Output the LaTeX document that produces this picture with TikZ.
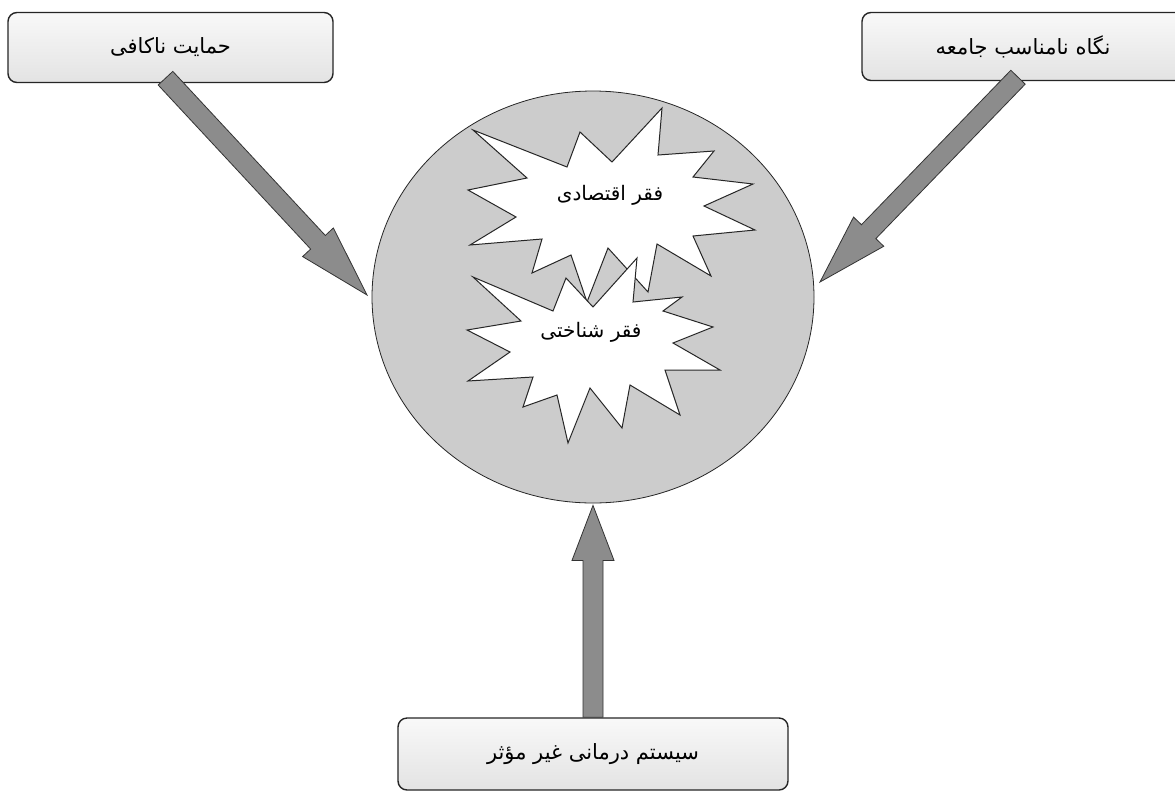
\documentclass[tikz,border=0pt]{standalone}
\usepackage{fontspec}
\usepackage{tikz}
\usetikzlibrary{shapes.geometric,calc}
\newfontfamily\farsifont[Script=Arabic]{DejaVu Sans}
\TeXXeTstate=1

% block arrow from #1 to #2, head length #3
\newcommand{\fatarrow}[3]{%
    \path ($(#2)!#3!(#1)$) coordinate (hb);
    \draw[fatarrow] ($(#1)!10pt!90:(#2)$) -- ($(hb)!10pt!90:(#2)$)
        -- ($(hb)!21pt!90:(#2)$) -- (#2) -- ($(hb)!21pt!-90:(#2)$)
        -- ($(hb)!10pt!-90:(#2)$) -- ($(#1)!10pt!-90:(#2)$) -- cycle;}

\begin{document}
\begin{tikzpicture}[
        x=1pt, y=-1pt,
        cause/.style={
            draw=black!85,
            line width=1.4pt,
            rounded corners=9pt,
            top color=gray!5,
            bottom color=gray!22,
            inner sep=0pt,
            font=\farsifont\fontsize{21}{25}\selectfont
        },
        core/.style={
            ellipse,
            draw=black!85,
            line width=0.8pt,
            fill=gray!40,
            minimum width=442pt,
            minimum height=412pt,
            inner sep=0pt
        },
        burst/.style={
            draw=black!85,
            line width=1pt,
            fill=white,
            line join=miter
        },
        fatarrow/.style={
            draw=black!80,
            line width=0.8pt,
            fill=black!45,
            line join=miter
        },
        bursttext/.style={
            inner sep=1pt,
            font=\farsifont\fontsize{20}{24}\selectfont
        }
    ]
        \fill[white] (0,0) rectangle (1175,793);
        \useasboundingbox (0,0) rectangle (1175,793);

        % Causes
        \node[cause, minimum width=325pt, minimum height=70pt] (support) at (170.5,47.5) {\beginR حمایت ناکافی\endR};
        \node[cause, minimum width=322pt, minimum height=68pt] (view) at (1023,46.5) {\beginR نگاه نامناسب جامعه\endR};
        \node[cause, minimum width=390pt, minimum height=72pt] (care) at (593,754) {\beginR سیستم درمانی غیر مؤثر\endR};

        % Poverty circle
        \node[core] (poverty) at (593,297) {};

        % Economic poverty
        \draw[burst] (473,130) -- (567,167) -- (580,132) -- (612,162) -- (662,108)
            -- (658,155) -- (714,151) -- (693,177) -- (753,184) -- (704,206)
            -- (755,230) -- (693,236) -- (711,276) -- (657,244) -- (648,292)
            -- (608,248) -- (587,302) -- (571,255) -- (532,273) -- (542,239)
            -- (470,245) -- (516,217) -- (468,190) -- (527,178) -- cycle;
        \node[bursttext] (econ) at (610,195) {\beginR فقر اقتصادی\endR};

        % Cognitive poverty
        \draw[burst] (473,277) -- (553,311) -- (566,278) -- (593,307) -- (637,258)
            -- (633,302) -- (682,297) -- (663,311) -- (713,327) -- (673,343)
            -- (720,370) -- (665,370) -- (680,415) -- (630,385) -- (622,428)
            -- (590,388) -- (568,443) -- (557,395) -- (523,407) -- (533,377)
            -- (468,381) -- (510,352) -- (467,330) -- (521,321) -- cycle;
        \node[bursttext] (cogn) at (591,332) {\beginR فقر شناختی\endR};

        % Arrows
        \coordinate (inL) at (367,295);
        \coordinate (inR) at (820,282);
        \coordinate (inB) at ($(poverty.south)+(0,2)$);
        \fatarrow{$(support.south)+(-5,-5)$}{inL}{72pt}
        \fatarrow{$(view.south)+(-5,-4)$}{inR}{70pt}
        \fatarrow{care.north}{inB}{55pt}
    \end{tikzpicture}
\end{document}
